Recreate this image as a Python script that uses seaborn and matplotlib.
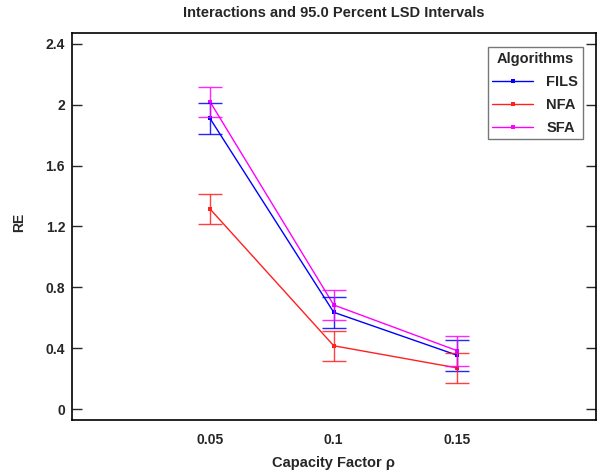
import matplotlib
matplotlib.use("Agg")
import matplotlib.pyplot as plt
import seaborn as sns
import pandas as pd
import numpy as np

capacity = [0.05, 0.1, 0.15]
fils = [1.91, 0.636, 0.353]
nfa = [1.315, 0.416, 0.27]
sfa = [2.02, 0.684, 0.383]
lsd_half = [0.1, 0.1, 0.1]
algorithms = ["FILS", "NFA", "SFA"]
colors = {"FILS": "#0000ff", "NFA": "#ff2020", "SFA": "#ff00ff"}
yticks = [0, 0.4, 0.8, 1.2, 1.6, 2.0, 2.4]
ytick_labels = ["0", "0.4", "0.8", "1.2", "1.6", "2", "2.4"]

sns.set_style("white")
plt.rcParams['font.family'] = ['Liberation Sans', 'DejaVu Sans']
plt.rcParams['font.weight'] = 'bold'

df = pd.DataFrame({
    "Capacity": capacity * 3,
    "RE": fils + nfa + sfa,
    "half": lsd_half * 3,
    "Algorithms": [a for a in algorithms for _ in capacity],
})

fig = plt.figure(figsize=(6.01, 4.74), dpi=100)
ax = fig.add_axes([72/601, 1 - 420/474, (595.5-72)/601, (420-33)/474])

sns.lineplot(data=df, x="Capacity", y="RE", hue="Algorithms", palette=colors,
             marker="s", markersize=3, markeredgewidth=0, linewidth=1, ax=ax)

for alg in algorithms:
    sub = df[df["Algorithms"] == alg]
    ax.errorbar(sub["Capacity"], sub["RE"], yerr=sub["half"], fmt="none",
                ecolor=colors[alg], elinewidth=1, capsize=8.6, capthick=1, alpha=0.85)

ax.set_xlim(-0.0058, 0.2058)
ax.set_ylim(-0.072, 2.472)
ax.set_xticks(capacity)
ax.set_xticklabels(["0.05", "0.1", "0.15"], fontsize=10, fontweight="bold")
ax.set_yticks(yticks)
ax.set_yticklabels(ytick_labels, fontsize=10, fontweight="bold")
ax.tick_params(axis="y", direction="in", length=7, width=1, left=True, right=True, pad=5)
ax.tick_params(axis="x", length=0, pad=9)
for s in ax.spines.values():
    s.set_linewidth(1.2)
    s.set_color("black")

ax.set_xlabel("")
ax.set_ylabel("")
fig.text(19/601, 1 - 222/474, "RE", fontsize=10, fontweight="bold",
         ha="center", va="center", rotation=90)
fig.text(333.5/601, 1 - 463/474, "Capacity Factor ρ", fontsize=10.5, fontweight="bold",
         ha="center", va="center")
fig.text(333.5/601, 1 - 13/474, "Interactions and 95.0 Percent LSD Intervals",
         fontsize=10.5, fontweight="bold", ha="center", va="center")

leg = ax.legend(title="Algorithms", loc="upper right", bbox_to_anchor=(0.9755, 0.963),
                fontsize=10.5, title_fontsize=10.5, frameon=True, fancybox=False,
                edgecolor="#555555", handlelength=2.8, handletextpad=0.9,
                borderpad=0.3, labelspacing=0.62, borderaxespad=0)
leg.get_title().set_fontweight("bold")
for t in leg.get_texts():
    t.set_fontweight("bold")
leg.get_frame().set_linewidth(1)

fig.savefig("out.png", dpi=100)
